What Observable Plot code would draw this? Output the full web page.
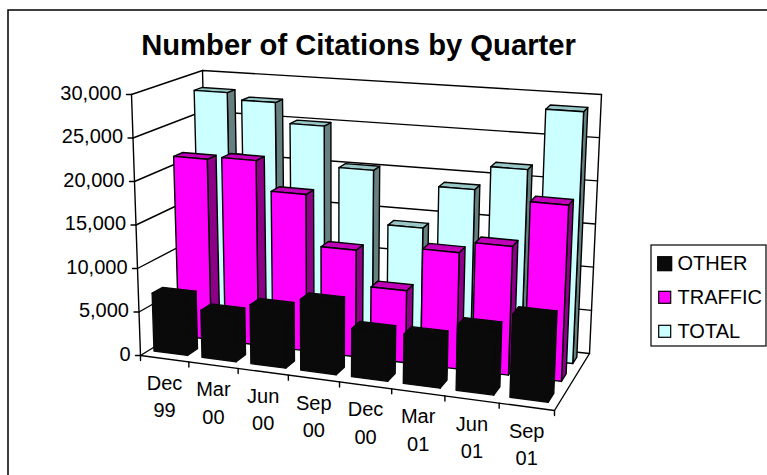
<!DOCTYPE html>
<html>
<head>
<meta charset="utf-8">
<style>html,body{margin:0;padding:0;background:#fff}svg{display:block}</style>
<script src="https://cdn.jsdelivr.net/npm/d3@7"></script>
<script src="https://cdn.jsdelivr.net/npm/@observablehq/plot@0.6"></script>
</head>
<body>
<script>
const quarters = ["Dec 99","Mar 00","Jun 00","Sep 00","Dec 00","Mar 01","Jun 01","Sep 01"];
const other   = [6700,5400,6700,8000,5400,5500,7200,9100];
const traffic = [21300,21650,18200,12300,8250,13200,14500,19700];
const total   = [28200,27400,25000,20200,13900,18900,21700,28800];
const yTicks  = [0,5000,10000,15000,20000,25000,30000];
const seriesNames = ["OTHER","TRAFFIC","TOTAL"];
const seriesValues = [other,traffic,total];
const chartTitle = "Number of Citations by Quarter";

const FONT = "'Liberation Sans', Arial, sans-serif";
const VMAX = 30000;
const C = {
  f0l:[140,355], f0r:[554,410], b0l:[208,313], b0r:[589,353],
  f1l:[131,94],  f1r:[565,132], b1l:[202,70],  b1r:[601,94]
};
const persp = (t,w) => t/(t+w*(1-t));
const mix = (a,b,t) => [a[0]+(b[0]-a[0])*t, a[1]+(b[1]-a[1])*t];
function P(u,d,v){
  const uu = persp(u/8,1.08), dd = persp(d/3,0.8), vv = v/VMAX;
  const f0 = mix(C.f0l,C.f0r,uu), b0 = mix(C.b0l,C.b0r,uu);
  const f1 = mix(C.f1l,C.f1r,uu), b1 = mix(C.b1l,C.b1r,uu);
  return mix(mix(f0,b0,dd), mix(f1,b1,dd), vv);
}
const styles = [
  {front:"#0a0a0a", side:"#0a0a0a", top:"#0a0a0a", sw:"#0a0a0a", line:"#0a0a0a"},
  {front:"#ff00ff", side:"#8b0086", top:"#bf00b8", sw:"#ff00ff", line:"#000"},
  {front:"#ccffff", side:"#668080", top:"#99c6c6", sw:"#ccffff", line:"#000"}
];
const BAR_U0=0.11, BAR_U1=0.81, BAR_D0=0.3, BAR_D1=0.7;

const polys = [];
let pid = 0;
function poly(points,fill,line){ const id=pid++; for(const p of points) polys.push({x:p[0],y:p[1],id,fill,line}); }
for (let s=2;s>=0;s--){
  seriesValues[s].forEach((v,i)=>{
    const u0=i+BAR_U0,u1=i+BAR_U1,d0=s+BAR_D0,d1=s+BAR_D1,st=styles[s];
    poly([P(u1,d0,0),P(u1,d1,0),P(u1,d1,v),P(u1,d0,v),P(u1,d0,0)],st.side,st.line);
    poly([P(u0,d0,v),P(u1,d0,v),P(u1,d1,v),P(u0,d1,v),P(u0,d0,v)],st.top,st.line);
    poly([P(u0,d0,0),P(u1,d0,0),P(u1,d0,v),P(u0,d0,v),P(u0,d0,0)],st.front,st.line);
  });
}
const wallLines=[];
let wid=0;
function wl(...pts){const id=wid++; for(const p of pts) wallLines.push({x:p[0],y:p[1],id});}
yTicks.forEach(v=>{ wl(P(0,0,v),P(0,3,v),P(8,3,v)); });
wl(P(0,0,0),P(0,0,VMAX));
wl(P(0,3,0),P(0,3,VMAX));
wl(P(8,3,0),P(8,3,VMAX));
wl(P(0,0,0),P(8,0,0),P(8,3,0));
yTicks.forEach(v=>{ const a=P(0,0,v); wl([a[0]-5,a[1]],a); });
d3.range(0,9).forEach(i=>{ const a=P(i,0,0); wl(a,[a[0],a[1]+5]); });

const yLabels = yTicks.map(v=>{const a=P(0,0,v);return {x:a[0]-10,y:a[1]-1,text:d3.format(",")(v)};});
const xLabels = quarters.map((q,i)=>{const a=P(i+0.5,0,0);const [m,yy]=q.split(" ");return {x:a[0],y:a[1]+36,text:m+"\n"+yy};});

const legendRows = seriesNames.map((n,i)=>{
  const cy=[263.7,297.3,331.3][i], h=i==0?7:6;
  return {name:n,y:cy-0.5,x1:664.7-h,x2:664.7+h,y1:cy-h,y2:cy+h,tx:677,c:styles[i].sw};
});

const chart = Plot.plot({
  width:767,height:475,margin:0,
  x:{domain:[0,767],range:[0,767],axis:null},
  y:{domain:[0,475],range:[0,475],axis:null},
  marks:[
    Plot.rect([{x1:8,x2:780,y1:10,y2:490}],{x1:"x1",x2:"x2",y1:"y1",y2:"y2",fill:"#fff",stroke:"#000",strokeWidth:1.5,clip:false}),
    Plot.line(wallLines,{x:"x",y:"y",z:"id",stroke:"#000",strokeWidth:1.4,curve:"linear"}),
    ...d3.groups(polys,d=>d.id).map(([id,pts])=>Plot.line(pts,{x:"x",y:"y",fill:pts[0].fill,stroke:pts[0].line,strokeWidth:1.4,strokeLinejoin:"round"})),
    Plot.text([chartTitle],{x:()=>358,y:()=>45,text:d=>d,fontFamily:FONT,fontWeight:"bold",fontSize:29.2,fill:"#000"}),
    Plot.text(yLabels,{x:"x",y:"y",text:"text",textAnchor:"end",fontFamily:FONT,fontSize:20,fill:"#000"}),
    Plot.text(xLabels,{x:"x",y:"y",text:"text",fontFamily:FONT,fontSize:20,lineHeight:1.37,lineAnchor:"middle",fill:"#000"}),
    Plot.rect([{x1:651,x2:766,y1:245,y2:346}],{x1:"x1",x2:"x2",y1:"y1",y2:"y2",fill:"#fff",stroke:"#000",strokeWidth:1.2}),
    Plot.rect(legendRows,{x1:"x1",x2:"x2",y1:"y1",y2:"y2",fill:"c",stroke:"#000",strokeWidth:1.2}),
    Plot.text(legendRows,{x:"tx",y:"y",text:"name",textAnchor:"start",fontFamily:FONT,fontSize:20,fill:"#000"})
  ]
});
document.body.appendChild(chart);
</script>
</body>
</html>
